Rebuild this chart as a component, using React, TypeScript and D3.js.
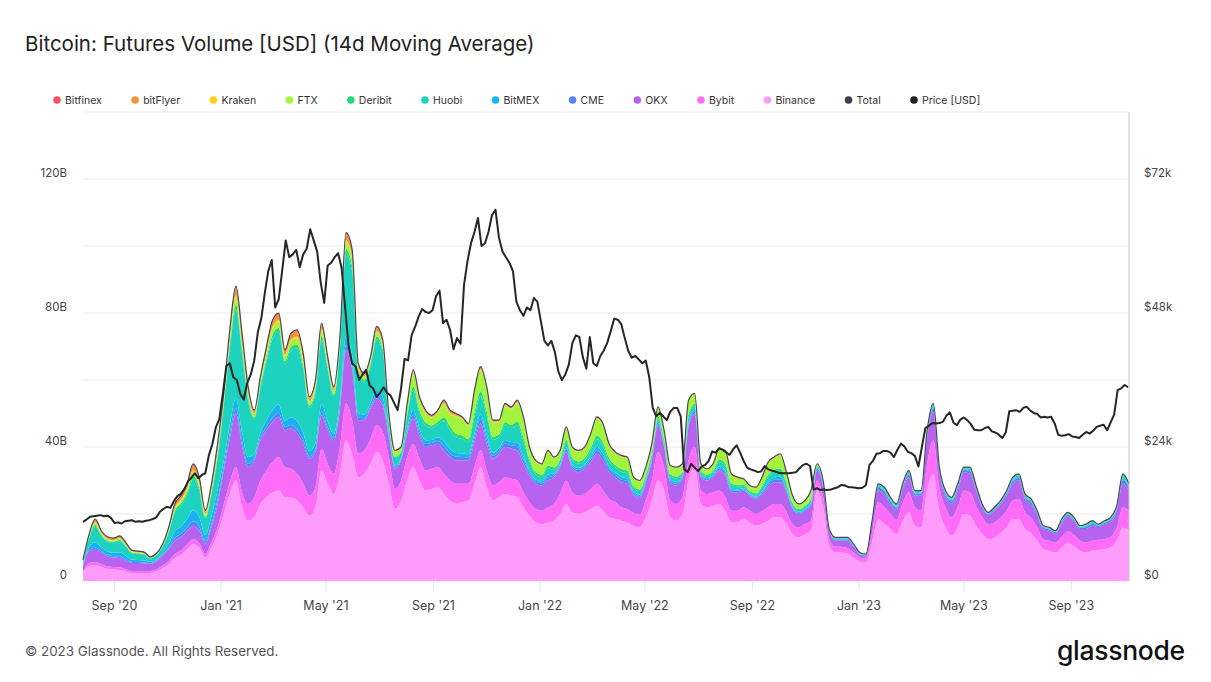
import React from "react";
import * as d3 from "d3";

// weekly samples, 14d moving average, billions USD
const startDate = new Date(2020, 6, 27);
const endDate = new Date(2023, 10, 6);

const binance = [
  2.5, 4.5, 4.7, 4.2, 3.6, 3.4, 3.3, 2.8, 2.4, 2.4,
  2.4, 2.4, 2.8, 3.8, 5.0, 6.8, 7.8, 9.5, 11, 10,
  7, 10, 14, 20, 26, 30, 22, 18, 19, 23,
  25, 26.5, 27, 25, 25, 24, 22, 19.5, 22, 33,
  29, 26, 32, 42, 38, 31, 32, 35, 38.5, 36,
  29, 21.5, 24, 30, 34, 30, 27, 27.5, 28, 26,
  24, 23, 23.5, 24, 29, 34, 28, 24, 25, 26,
  25.5, 25, 22, 19.5, 17.5, 17, 17.5, 18, 20, 23,
  20.5, 20, 20.5, 21.5, 22.5, 21, 19, 18.5, 18, 17.5,
  16.5, 16, 19, 24, 30, 27, 19, 18, 20, 30,
  34, 23, 22, 22.5, 23, 21, 17.5, 17.5, 18.5, 17.5,
  16.5, 17, 18, 19, 19, 17, 14, 13, 14, 15,
  27, 22, 10.5, 8.5, 8.5, 8.2, 7, 5.8, 5.5, 11.5,
  18.5, 17, 15.5, 14, 17.8, 20.5, 16.5, 16, 27, 32,
  21, 16, 13.5, 16, 20, 19.5, 16.5, 14, 12.5, 13,
  14.3, 16, 18.5, 18.5, 15.5, 14.3, 12, 9.5, 9, 8.4,
  10, 11.3, 10.5, 9, 8.5, 9, 9.3, 9.5, 10, 12,
  16, 15,
];

const bybit = [
  0.5, 0.9, 1, 0.9, 0.8, 0.8, 0.8, 0.7, 0.6, 0.6,
  0.6, 0.6, 0.7, 0.8, 1, 1.2, 1.3, 1.4, 1.5, 1.4,
  1.2, 1.6, 2, 2.8, 3.5, 4, 4.5, 5, 6, 7,
  8, 9, 10, 9, 8.5, 8, 7, 6, 6, 6.5,
  6, 6, 8, 11, 10, 7, 7, 7.5, 8, 8.5,
  8, 6, 6, 7, 7, 6.5, 6, 6, 6, 6,
  6, 6, 5.5, 5, 5, 5, 5, 4.5, 4.5, 5,
  5, 5, 4.5, 4, 4, 4, 4.5, 5, 6, 7,
  6, 5.5, 5.5, 6, 6.5, 6, 5.5, 5, 4, 4,
  3.8, 3.8, 5, 6, 8.5, 7, 5, 5, 5, 6,
  6, 4, 4, 4, 4, 4, 3.5, 3.5, 3.5, 3.5,
  3.5, 3.8, 4, 4, 4, 3.5, 3, 3, 3, 3,
  3, 3, 2, 1.8, 1.7, 1.6, 1.5, 1.2, 1.2, 3,
  5, 5, 4.5, 4.2, 5.5, 6, 5.5, 5, 8, 10,
  7, 6, 5.5, 6, 7, 7, 6, 5, 4.5, 4.5,
  4.5, 5, 5.5, 6, 5, 4.5, 4, 3, 3, 3,
  3.2, 3.5, 3.3, 3, 3, 3, 3, 3, 3.2, 4,
  6, 6,
];

const okx = [
  1.5, 3.5, 3.6, 3.3, 3, 2.8, 2.8, 2.6, 2.4, 2.4,
  2.3, 2.2, 2.4, 3, 3.5, 4, 4, 4, 4, 3.8,
  3, 4.5, 7, 10, 13, 16, 14, 11, 11, 12,
  12, 12, 12, 11, 12, 12, 12, 11, 10.5, 10,
  10, 10, 11, 16, 15, 10, 9, 9, 8, 8,
  6, 6, 6, 7, 7.5, 7, 7, 7, 7, 7,
  7, 7, 7, 7, 7.5, 8, 8, 8, 8.5, 9,
  9, 9, 8.5, 8, 7.5, 7.5, 8, 8, 8, 8.5,
  7, 7, 7.5, 8, 9, 9, 8, 7.5, 7.5, 7.5,
  5.5, 5, 5.5, 6, 8, 6, 5.5, 5.5, 5.5, 10,
  10, 4, 4, 4.5, 6, 6.5, 5.5, 5.5, 5, 4.5,
  4.5, 5, 6, 6.5, 6.5, 6, 4.5, 4, 4, 4.5,
  3, 3, 2.3, 1.7, 1.8, 2.2, 1.7, 0.8, 0.6, 2.3,
  3.5, 4, 3, 3, 4, 4.5, 3.5, 4.5, 8, 8.5,
  4.5, 3.5, 4, 5, 5.5, 5.5, 4.5, 3, 2.7, 3.5,
  4, 4.5, 5, 5.5, 4, 4, 3.5, 3, 3, 2.8,
  4, 4.5, 4, 3.5, 4, 4.5, 3.8, 4.5, 4.5, 5,
  7, 6,
];

const cme = [
  0.1, 0.4, 0.6, 0.5, 0.4, 0.4, 0.5, 0.4, 0.3, 0.25,
  0.25, 0.15, 0.15, 0.25, 0.45, 0.8, 0.9, 1.0, 1.3, 1.1,
  0.7, 0.9, 1.2, 1.0, 1.3, 1.5, 1.3, 1.0, 0.6, 0.8,
  1.0, 1.2, 1.2, 1.0, 1.1, 1.2, 1.1, 0.7, 0.9, 1.1,
  0.9, 0.6, 0.9, 1.4, 1.4, 0.7, 0.6, 0.6, 0.9, 0.8,
  0.55, 0.45, 0.3, 0.7, 1.15, 0.9, 0.9, 0.7, 0.8, 1.2,
  1.1, 1.1, 1.05, 0.9, 1.25, 1.35, 1.35, 0.9, 0.8, 1.05,
  1.0, 1.2, 1.1, 0.7, 0.7, 0.65, 0.9, 0.6, 0.5, 0.75,
  0.65, 0.65, 0.65, 0.85, 1.1, 1.1, 0.85, 0.75, 0.8, 0.8,
  0.52, 0.52, 0.45, 0.5, 0.55, 0.5, 0.5, 0.55, 0.45, 0.8,
  0.6, 0.4, 0.35, 0.4, 0.65, 0.75, 0.55, 0.45, 0.35, 0.3,
  0.35, 0.52, 0.75, 0.75, 0.85, 0.6, 0.4, 0.3, 0.3, 0.45,
  0.6, 0.7, 0.28, 0.4, 0.4, 0.4, 0.32, 0.28, 0.28, 0.48,
  0.8, 0.8, 0.8, 0.72, 0.68, 0.8, 0.6, 0.6, 0.8, 1.0,
  0.6, 0.6, 0.8, 0.8, 0.6, 0.8, 0.6, 0.4, 0.32, 0.4,
  0.48, 0.6, 0.8, 0.8, 0.6, 0.68, 0.6, 0.4, 0.4, 0.32,
  0.52, 0.48, 0.48, 0.4, 0.6, 0.6, 0.36, 0.4, 0.52, 0.6,
  1.2, 0.8,
];

const bitmex = [
  0.3, 0.9, 1.7, 1.2, 1.0, 1.0, 1.2, 1.0, 0.7, 0.6,
  0.6, 0.35, 0.4, 0.6, 1.2, 2.0, 2.2, 2.5, 3.3, 2.8,
  1.8, 2.3, 3.0, 2.0, 2.7, 3.0, 2.7, 2.0, 1.2, 1.5,
  2.0, 2.4, 2.5, 1.9, 2.3, 2.5, 2.2, 1.5, 1.7, 2.2,
  1.8, 1.3, 1.8, 2.8, 2.9, 1.4, 1.1, 1.2, 1.7, 1.6,
  0.7, 0.55, 0.4, 0.9, 1.45, 1.15, 1.1, 0.9, 1.0, 1.5,
  1.4, 1.1, 1.05, 0.9, 1.25, 1.35, 1.35, 0.9, 0.8, 1.05,
  1.0, 1.2, 1.1, 0.7, 0.63, 0.6, 0.8, 0.55, 0.45, 0.68,
  0.6, 0.6, 0.6, 0.77, 1.0, 1.0, 0.77, 0.68, 0.72, 0.72,
  0.47, 0.47, 0.4, 0.45, 0.5, 0.45, 0.45, 0.5, 0.4, 0.72,
  0.54, 0.36, 0.32, 0.36, 0.6, 0.68, 0.5, 0.4, 0.32, 0.27,
  0.32, 0.47, 0.68, 0.68, 0.77, 0.54, 0.36, 0.27, 0.27, 0.4,
  0.25, 0.3, 0.1, 0.15, 0.15, 0.15, 0.12, 0.1, 0.1, 0.18,
  0.3, 0.3, 0.3, 0.27, 0.26, 0.3, 0.22, 0.22, 0.3, 0.38,
  0.22, 0.22, 0.3, 0.3, 0.22, 0.3, 0.22, 0.15, 0.12, 0.15,
  0.18, 0.22, 0.3, 0.3, 0.22, 0.26, 0.22, 0.15, 0.15, 0.12,
  0.2, 0.18, 0.18, 0.15, 0.22, 0.22, 0.14, 0.15, 0.2, 0.22,
  0.45, 0.3,
];

const huobi = [
  0.9, 2.6, 4.6, 3.3, 2.9, 2.9, 3.3, 2.7, 1.9, 1.8,
  1.65, 1.0, 1.15, 1.7, 3.2, 5.5, 6.2, 7.0, 9.3, 7.9,
  4.9, 6.5, 9.3, 16, 22.5, 26.5, 23.5, 16.8, 10.5, 13.3,
  17.5, 21.3, 21.7, 16.8, 20, 21.7, 18.9, 13, 15, 19.2,
  15.4, 11.2, 15.4, 24.5, 25.2, 11.9, 9.8, 10.8, 15, 13.6,
  2.8, 2.2, 1.6, 3.6, 5.8, 4.6, 4.4, 3.6, 4.0, 6.0,
  5.6, 4.6, 4.3, 3.6, 5.1, 5.6, 5.6, 3.8, 3.3, 4.3,
  4.1, 5.0, 4.6, 2.8, 1.4, 1.3, 1.8, 1.2, 1.0, 1.5,
  1.3, 1.3, 1.3, 1.7, 2.2, 2.2, 1.7, 1.5, 1.6, 1.6,
  1.04, 1.04, 0.9, 1.0, 1.1, 1.0, 1.0, 1.1, 0.9, 1.6,
  1.2, 0.8, 0.7, 0.8, 1.3, 1.5, 1.1, 0.9, 0.7, 0.6,
  0.7, 1.04, 1.5, 1.5, 1.7, 1.2, 0.8, 0.6, 0.6, 0.9,
  0.35, 0.4, 0.14, 0.2, 0.2, 0.2, 0.16, 0.14, 0.14, 0.24,
  0.4, 0.4, 0.4, 0.36, 0.34, 0.4, 0.3, 0.3, 0.4, 0.5,
  0.3, 0.3, 0.4, 0.4, 0.3, 0.4, 0.3, 0.2, 0.16, 0.2,
  0.24, 0.3, 0.4, 0.4, 0.3, 0.34, 0.3, 0.2, 0.2, 0.16,
  0.26, 0.24, 0.24, 0.2, 0.3, 0.3, 0.18, 0.2, 0.26, 0.3,
  0.6, 0.4,
];

const deribit = [
  0.1, 0.3, 0.5, 0.4, 0.35, 0.35, 0.4, 0.3, 0.2, 0.2,
  0.2, 0.12, 0.15, 0.2, 0.4, 0.65, 0.75, 0.85, 1.1, 0.95,
  0.6, 0.8, 1.1, 1.0, 1.3, 1.5, 1.3, 1.0, 0.6, 0.8,
  1.0, 1.2, 1.2, 1.0, 1.1, 1.2, 1.1, 0.7, 0.9, 1.1,
  0.9, 0.6, 0.9, 1.4, 1.4, 0.7, 0.6, 0.6, 0.9, 0.8,
  0.55, 0.45, 0.3, 0.7, 1.15, 0.9, 0.9, 0.7, 0.8, 1.2,
  1.1, 1.1, 1.05, 0.9, 1.25, 1.35, 1.35, 0.9, 0.8, 1.05,
  1.0, 1.2, 1.1, 0.7, 0.7, 0.65, 0.9, 0.6, 0.5, 0.75,
  0.65, 0.65, 0.65, 0.85, 1.1, 1.1, 0.85, 0.75, 0.8, 0.8,
  0.52, 0.52, 0.45, 0.5, 0.55, 0.5, 0.5, 0.55, 0.45, 0.8,
  0.6, 0.4, 0.35, 0.4, 0.65, 0.75, 0.55, 0.45, 0.35, 0.3,
  0.35, 0.52, 0.75, 0.75, 0.85, 0.6, 0.4, 0.3, 0.3, 0.45,
  0.3, 0.4, 0.14, 0.2, 0.2, 0.2, 0.16, 0.14, 0.14, 0.24,
  0.4, 0.4, 0.4, 0.36, 0.34, 0.4, 0.3, 0.3, 0.4, 0.5,
  0.3, 0.3, 0.4, 0.4, 0.3, 0.4, 0.3, 0.2, 0.16, 0.2,
  0.24, 0.3, 0.4, 0.4, 0.3, 0.34, 0.3, 0.2, 0.2, 0.16,
  0.26, 0.24, 0.24, 0.2, 0.3, 0.3, 0.18, 0.2, 0.26, 0.3,
  0.6, 0.4,
];

const ftx = [
  0.1, 0.3, 0.6, 0.4, 0.35, 0.35, 0.4, 0.3, 0.2, 0.2,
  0.2, 0.12, 0.15, 0.2, 0.4, 0.65, 0.75, 0.85, 1.1, 0.95,
  0.6, 0.8, 1.1, 1.3, 2.0, 2.2, 2.0, 1.4, 0.9, 1.1,
  1.5, 1.9, 1.9, 1.5, 1.7, 1.9, 1.6, 1.1, 1.3, 1.7,
  1.3, 1.0, 1.3, 2.1, 2.2, 1.0, 0.8, 0.9, 1.3, 1.2,
  1.8, 1.4, 1.05, 2.35, 3.8, 3.0, 2.85, 2.35, 2.6, 3.9,
  3.65, 5.2, 4.8, 4.1, 5.7, 6.3, 6.3, 4.25, 3.7, 4.8,
  4.6, 5.5, 5.2, 3.1, 3.15, 2.9, 4.05, 2.7, 2.25, 3.4,
  2.9, 2.9, 2.9, 3.8, 4.95, 4.95, 3.8, 3.4, 3.6, 3.6,
  2.35, 2.35, 2.0, 2.25, 2.5, 2.25, 2.25, 2.5, 2.0, 3.6,
  2.7, 1.8, 1.58, 1.8, 2.9, 3.4, 2.5, 2.0, 1.58, 1.35,
  1.58, 2.35, 3.4, 3.4, 3.8, 2.7, 1.8, 1.35, 1.35, 2.0,
  0.4, 0.1, 0, 0, 0, 0, 0, 0, 0, 0,
  0, 0, 0, 0, 0, 0, 0, 0, 0, 0,
  0, 0, 0, 0, 0, 0, 0, 0, 0, 0,
  0, 0, 0, 0, 0, 0, 0, 0, 0, 0,
  0, 0, 0, 0, 0, 0, 0, 0, 0, 0,
  0, 0,
];

const kraken = [
  0.1, 0.15, 0.3, 0.2, 0.2, 0.2, 0.2, 0.15, 0.1, 0.1,
  0.1, 0.06, 0.07, 0.1, 0.2, 0.3, 0.35, 0.4, 0.55, 0.5,
  0.3, 0.4, 0.5, 0.4, 0.5, 0.6, 0.5, 0.4, 0.25, 0.3,
  0.4, 0.5, 0.5, 0.4, 0.4, 0.5, 0.4, 0.3, 0.3, 0.4,
  0.3, 0.25, 0.3, 0.5, 0.5, 0.25, 0.2, 0.25, 0.3, 0.3,
  0.15, 0.1, 0.1, 0.2, 0.3, 0.25, 0.2, 0.2, 0.2, 0.3,
  0.3, 0.3, 0.25, 0.2, 0.3, 0.35, 0.35, 0.25, 0.2, 0.25,
  0.25, 0.3, 0.3, 0.17, 0.14, 0.13, 0.18, 0.12, 0.1, 0.15,
  0.13, 0.13, 0.13, 0.17, 0.22, 0.22, 0.17, 0.15, 0.16, 0.16,
  0.1, 0.1, 0.1, 0.1, 0.1, 0.1, 0.1, 0.1, 0.1, 0.16,
  0.12, 0.08, 0.07, 0.08, 0.13, 0.15, 0.1, 0.1, 0.07, 0.06,
  0.07, 0.1, 0.15, 0.15, 0.17, 0.12, 0.08, 0.06, 0.06, 0.1,
  0.04, 0.04, 0.02, 0.02, 0.02, 0.02, 0.02, 0.02, 0.02, 0.03,
  0.04, 0.04, 0.04, 0.04, 0.04, 0.04, 0.03, 0.03, 0.04, 0.05,
  0.03, 0.03, 0.04, 0.04, 0.03, 0.04, 0.03, 0.02, 0.02, 0.02,
  0.03, 0.03, 0.04, 0.04, 0.03, 0.04, 0.03, 0.02, 0.02, 0.02,
  0.03, 0.03, 0.03, 0.02, 0.03, 0.03, 0.02, 0.02, 0.03, 0.03,
  0.06, 0.04,
];

const bitflyer = [
  0.1, 0.3, 0.6, 0.4, 0.4, 0.4, 0.4, 0.35, 0.3, 0.25,
  0.2, 0.14, 0.16, 0.25, 0.45, 0.8, 0.9, 1.0, 1.3, 1.1,
  0.7, 0.9, 1.3, 1.1, 1.7, 2.1, 1.7, 1.0, 0.7, 0.9,
  1.2, 1.5, 1.5, 1.0, 1.5, 1.5, 1.3, 0.9, 1.1, 1.4,
  1.1, 0.8, 1.1, 1.8, 1.9, 0.8, 0.7, 0.9, 1.1, 0.9,
  0.3, 0.25, 0.15, 0.35, 0.55, 0.45, 0.45, 0.35, 0.4, 0.6,
  0.55, 0.3, 0.25, 0.2, 0.3, 0.35, 0.35, 0.25, 0.2, 0.25,
  0.25, 0.3, 0.3, 0.17, 0.14, 0.13, 0.18, 0.12, 0.1, 0.15,
  0.13, 0.13, 0.13, 0.17, 0.22, 0.22, 0.17, 0.15, 0.16, 0.16,
  0.1, 0.1, 0.1, 0.1, 0.1, 0.1, 0.1, 0.1, 0.1, 0.16,
  0.12, 0.08, 0.07, 0.08, 0.13, 0.15, 0.1, 0.1, 0.07, 0.06,
  0.07, 0.1, 0.15, 0.15, 0.17, 0.12, 0.08, 0.06, 0.06, 0.1,
  0.04, 0.04, 0.01, 0.02, 0.02, 0.02, 0.01, 0.01, 0.01, 0.02,
  0.04, 0.04, 0.04, 0.03, 0.03, 0.04, 0.03, 0.03, 0.04, 0.05,
  0.03, 0.03, 0.04, 0.04, 0.03, 0.04, 0.03, 0.02, 0.02, 0.02,
  0.03, 0.03, 0.04, 0.04, 0.03, 0.03, 0.03, 0.02, 0.02, 0.02,
  0.02, 0.02, 0.02, 0.02, 0.03, 0.03, 0.01, 0.02, 0.02, 0.03,
  0.06, 0.04,
];

const bitfinex = [
  0.1, 0.15, 0.3, 0.2, 0.2, 0.2, 0.2, 0.15, 0.1, 0.1,
  0.1, 0.06, 0.07, 0.1, 0.2, 0.3, 0.35, 0.4, 0.55, 0.5,
  0.3, 0.3, 0.5, 0.4, 0.5, 0.6, 0.5, 0.4, 0.25, 0.3,
  0.4, 0.5, 0.5, 0.4, 0.4, 0.5, 0.4, 0.3, 0.3, 0.4,
  0.3, 0.25, 0.3, 0.5, 0.5, 0.25, 0.2, 0.25, 0.3, 0.3,
  0.15, 0.1, 0.1, 0.2, 0.3, 0.25, 0.2, 0.2, 0.2, 0.3,
  0.3, 0.3, 0.25, 0.2, 0.3, 0.35, 0.35, 0.25, 0.2, 0.25,
  0.25, 0.3, 0.3, 0.17, 0.14, 0.13, 0.18, 0.12, 0.1, 0.15,
  0.13, 0.13, 0.13, 0.17, 0.22, 0.22, 0.17, 0.15, 0.16, 0.16,
  0.1, 0.1, 0.1, 0.1, 0.1, 0.1, 0.1, 0.1, 0.1, 0.16,
  0.12, 0.08, 0.07, 0.08, 0.13, 0.15, 0.1, 0.1, 0.07, 0.06,
  0.07, 0.1, 0.15, 0.15, 0.17, 0.12, 0.08, 0.06, 0.06, 0.1,
  0.02, 0.02, 0.01, 0.01, 0.01, 0.01, 0.01, 0.01, 0.01, 0.01,
  0.02, 0.02, 0.02, 0.02, 0.01, 0.02, 0.02, 0.02, 0.02, 0.02,
  0.02, 0.02, 0.02, 0.02, 0.02, 0.02, 0.02, 0.01, 0.01, 0.01,
  0.01, 0.01, 0.02, 0.02, 0.02, 0.01, 0.02, 0.01, 0.01, 0.01,
  0.01, 0.01, 0.01, 0.01, 0.02, 0.02, 0.01, 0.01, 0.01, 0.02,
  0.03, 0.02,
];

// BTC price, thousands USD, every 4 days from startDate
const priceK = [
  10.6, 11.0, 11.5, 11.6, 11.7, 11.8, 11.6, 11.7, 11.3, 10.4,
  10.5, 10.3, 10.7, 10.8, 10.9, 10.6, 10.7, 10.6, 10.8, 10.9,
  11.1, 11.4, 12.4, 12.9, 13.3, 13.1, 14.3, 15.2, 15.6, 16.5,
  17.8, 18.5, 19.3, 18.4, 19.0, 19.3, 22.5, 24.5, 27.5, 29.0,
  33.5, 38.5, 39.0, 36.5, 36.0, 33.5, 32.5, 35.5, 37, 39.5,
  44.5, 47, 51.5, 55.5, 57.5, 49, 50.5, 55.7, 61, 58,
  58.5, 59.3, 56.2, 58.5, 59.5, 63, 61, 59, 53.5, 49.8,
  56.5, 57, 58, 58.7, 56, 49, 42, 39, 38.4, 36,
  37, 37.8, 35, 34.5, 33, 33.7, 34.7, 33.7, 33.2, 31.9,
  30.6, 34.5, 39.8, 39.5, 44, 45.5, 47.3, 48.7, 48.2, 48,
  48.5, 51, 52, 46.2, 46.8, 45, 41.5, 43.5, 42.5, 53,
  57.3, 60.5, 62.5, 65, 60, 60.5, 62.5, 65.5, 66.5, 61.5,
  59, 58, 57, 55.5, 50, 48.5, 47.5, 49, 48.5, 50.7,
  50, 46.5, 43, 42.2, 43, 41, 37.5, 36, 37, 38.8,
  42.6, 44, 43.7, 40.1, 38, 43.7, 39, 38.5, 40.3, 41.3,
  42.7, 44.8, 47, 46.8, 46, 43.5, 41.2, 40, 40.3, 39.7,
  39, 39.5, 36.5, 31, 29.5, 30.1, 29.5, 28.8, 30.3, 31,
  31, 29.5, 20, 19.5, 21, 20.3, 19.7, 20.5, 20.8, 21.5,
  23.2, 23, 23.8, 23.5, 23, 22.6, 23.6, 24.3, 23, 21.5,
  20.3, 20, 19.8, 19.5, 19.6, 20.6, 20, 19.8, 19.6, 19.4,
  19.3, 19.3, 19.3, 19.4, 19.5, 20.2, 20.8, 21, 20.6, 16.4,
  16.6, 16.3, 16.4, 16.3, 16.4, 16.6, 16.8, 17.2, 17.1, 16.8,
  16.8, 16.7, 16.6, 16.7, 17.2, 20.8, 21.5, 22.8, 22.9, 23.3,
  23.3, 23, 22.2, 23.5, 24.6, 24.1, 23.1, 22.9, 22.4, 20.5,
  24, 27.4, 27.8, 28.3, 28.2, 28.3, 28.5, 29.6, 30.2, 28.4,
  27.9, 28.9, 29.3, 28.8, 28.1, 27.1, 27, 27, 27.4, 27.6,
  26.8, 26.6, 26.2, 25.6, 26.6, 30.4, 30.5, 30.6, 30.3, 31,
  31.2, 30.5, 30.1, 29.9, 29.3, 29.4, 29.3, 29.4, 28.2, 26.2,
  26, 26.1, 26.3, 25.9, 25.8, 25.6, 26.2, 26.7, 26.4, 26.9,
  27.6, 27.8, 28, 27, 28.4, 29.8, 34.2, 34.5, 35.1, 34.7,
];

const seriesNames = ["Bitfinex", "bitFlyer", "Kraken", "FTX", "Deribit", "Huobi", "BitMEX", "CME", "OKX", "Bybit", "Binance"];
const seriesValues = [bitfinex, bitflyer, kraken, ftx, deribit, huobi, bitmex, cme, okx, bybit, binance];
const seriesColors = ["#f7525f", "#f7923a", "#fdd116", "#a2f43d", "#26d97f", "#1ed2c0", "#1ab2f5", "#5a83f2", "#b863f0", "#ff6cf7", "#ff9cfb"];

const volTicks = [0, 40, 80, 120];
const priceTicks = [0, 24, 48, 72];

const W = 1211;
const H = 682;
const M = { left: 83, right: 1129, top: 112, bottom: 581 };
const FONT = "Inter, 'Noto Sans', sans-serif";
const LEGEND_FONT = 10.5;

function measure(text: string, font: string) {
  const ctx = document.createElement("canvas").getContext("2d");
  if (!ctx) return text.length * 6;
  ctx.font = font;
  return ctx.measureText(text).width;
}

export default function App() {
  const dates = binance.map((_, i) => d3.timeDay.offset(startDate, i * 7));
  const priceDates = priceK.map((_, i) => d3.timeDay.offset(startDate, i * 4));

  const rows = dates.map((date, i) => {
    const r: any = { date };
    seriesNames.forEach((n, k) => (r[n] = seriesValues[k][i]));
    return r;
  });

  const stackKeys = [...seriesNames].reverse();
  const stacked = d3.stack<any>().keys(stackKeys)(rows);

  const x = d3.scaleTime().domain([startDate, endDate]).range([M.left, M.right]);
  const y = d3.scaleLinear().domain([0, 140]).range([M.bottom, M.top]);
  const yPrice = d3.scaleLinear().domain([0, 84]).range([M.bottom, M.top]);

  const area = d3
    .area<any>()
    .x((d) => x(d.data.date))
    .y0((d) => y(d[0]))
    .y1((d) => y(d[1]))
    .curve(d3.curveMonotoneX);

  const totals = rows.map((r) => d3.sum(seriesNames, (n) => r[n]));
  const totalLine = d3
    .line<number>()
    .x((_, i) => x(dates[i]))
    .y((d) => y(d))
    .curve(d3.curveMonotoneX);

  const priceLine = d3
    .line<number>()
    .x((_, i) => x(priceDates[i]))
    .y((d) => yPrice(d));

  const xTicks = d3.timeMonth.every(4)!.range(new Date(2020, 7, 1), endDate);
  const fmt = d3.timeFormat("%b '%y");

  const legendItems = [
    ...seriesNames.map((n, k) => ({ name: n, color: seriesColors[k] })),
    { name: "Total", color: "#3b3f4a" },
    { name: "Price [USD]", color: "#222222" },
  ];
  const widths = legendItems.map((it) => 8 + measure(it.name, `${LEGEND_FONT}px ${FONT}`));
  const firstDot = 57;
  const lastDot = 914;
  const gap = (lastDot - firstDot - d3.sum(widths.slice(0, -1))) / (legendItems.length - 1);
  let cursor = firstDot;
  const legend = legendItems.map((it, i) => {
    const cx = cursor;
    cursor += widths[i] + gap;
    return { ...it, cx };
  });

  const gridVals = d3.range(0, 141, 20);

  return (
    <svg width={W} height={H} style={{ position: "absolute", left: 0, top: 0, background: "#fff" }} fontFamily={FONT}>
      <rect width={W} height={H} fill="#fff" />
      <text x={25} y={51} fontSize={20.5} fill="#222">
        Bitcoin: Futures Volume [USD] (14d Moving Average)
      </text>

      {legend.map((it) => (
        <g key={it.name}>
          <circle cx={it.cx} cy={100} r={3.8} fill={it.color} />
          <text x={it.cx + 8} y={104} fontSize={LEGEND_FONT} fill="#333">
            {it.name}
          </text>
        </g>
      ))}

      {gridVals.map((v) => (
        <line key={v} x1={M.left} x2={M.right} y1={y(v)} y2={y(v)} stroke="#ececec" strokeWidth={1} />
      ))}

      {xTicks.map((t) => (
        <line key={+t} x1={x(t)} x2={x(t)} y1={M.bottom} y2={M.bottom + 10} stroke="#e6e6e6" />
      ))}

      {stacked.map((s) => (
        <path key={s.key} d={area(s) || ""} fill={seriesColors[seriesNames.indexOf(s.key)]} />
      ))}

      <path d={totalLine(totals) || ""} fill="none" stroke="#444a55" strokeWidth={1.2} />
      <path d={priceLine(priceK) || ""} fill="none" stroke="#262626" strokeWidth={2} strokeLinejoin="round" />

      <line x1={M.right} x2={M.right} y1={M.top} y2={M.bottom} stroke="#c4c4c4" />

      {volTicks.map((v) => (
        <text key={v} x={67} y={y(v) - 2} fontSize={11.5} fill="#444" textAnchor="end">
          {v === 0 ? "0" : `${v}B`}
        </text>
      ))}
      {priceTicks.map((v) => (
        <text key={v} x={1144} y={yPrice(v) - 2} fontSize={11.5} fill="#444">
          {v === 0 ? "$0" : `$${v}k`}
        </text>
      ))}
      {xTicks.map((t) => (
        <text key={+t} x={x(t)} y={610} fontSize={12.5} fill="#444" textAnchor="middle">
          {fmt(t)}
        </text>
      ))}

      <text x={25} y={656} fontSize={13.4} fill="#555">
        © 2023 Glassnode. All Rights Reserved.
      </text>
      <text x={1057} y={660} fontSize={26.5} fill="#111" fontWeight={500} letterSpacing={-0.3}>
        glassnode
      </text>
    </svg>
  );
}
